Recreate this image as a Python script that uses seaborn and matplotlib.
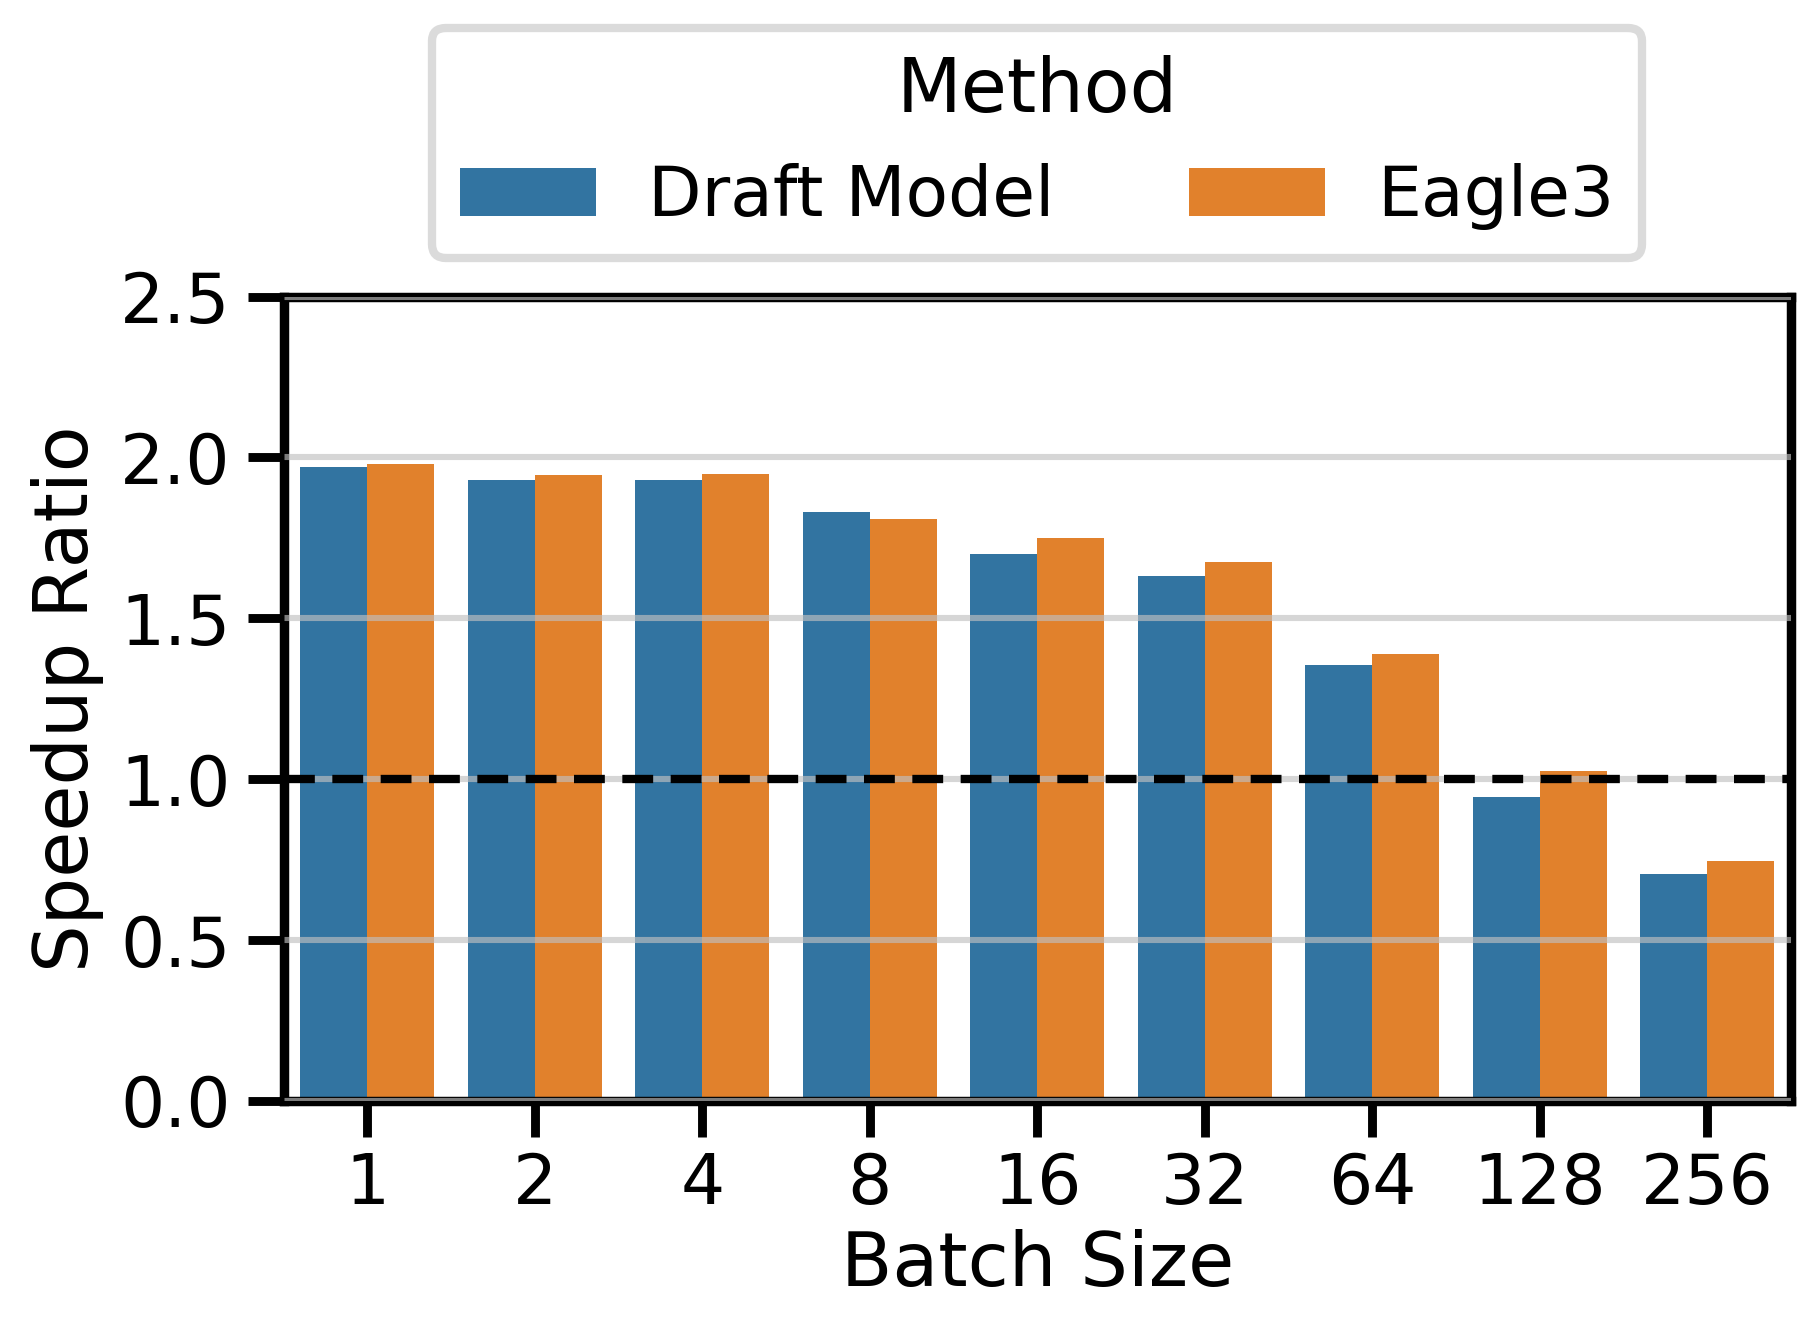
"""Speedup ratio vs batch size: Draft Model vs Eagle3"""
import matplotlib
matplotlib.use("Agg")
import matplotlib.pyplot as plt
import pandas as pd
import seaborn as sns

batch_sizes = ["1", "2", "4", "8", "16", "32", "64", "128", "256"]
draft_model = [1.97, 1.93, 1.93, 1.83, 1.70, 1.63, 1.355, 0.945, 0.705]
eagle3 = [1.98, 1.945, 1.95, 1.81, 1.75, 1.675, 1.39, 1.025, 0.745]

df = pd.DataFrame({
    "Batch Size": batch_sizes * 2,
    "Speedup Ratio": draft_model + eagle3,
    "Method": ["Draft Model"] * len(batch_sizes) + ["Eagle3"] * len(batch_sizes),
})

sns.set_theme(context="poster", style="ticks")
plt.rcParams["font.family"] = ["DejaVu Sans"]
plt.rcParams["text.color"] = "black"
plt.rcParams["axes.labelcolor"] = "black"
plt.rcParams["xtick.color"] = "black"
plt.rcParams["ytick.color"] = "black"

fig = plt.figure(figsize=(9.09, 6.68), dpi=200)
ax = fig.add_axes([0.156, 0.176, 0.829, 0.602])

sns.barplot(data=df, x="Batch Size", y="Speedup Ratio", hue="Method",
            order=batch_sizes, palette="tab10", saturation=0.75,
            linewidth=0, ax=ax)

ax.set_ylim(0, 2.5)
ax.set_yticks([0.0, 0.5, 1.0, 1.5, 2.0, 2.5])
ax.yaxis.grid(True, color="#c0c0c0", alpha=0.65, linewidth=2.2)
ax.set_axisbelow(False)
ax.axhline(1.0, color="black", linestyle="--", linewidth=3,
           dashes=(3.7, 2.1), zorder=5)

for s in ax.spines.values():
    s.set_linewidth(3.4)
    s.set_color("black")

ax.tick_params(axis="both", width=3.2, length=13, labelsize=25, colors="black")
ax.tick_params(axis="x", pad=5)
ax.tick_params(axis="y", pad=6)
ax.set_xlabel("Batch Size", fontsize=27, labelpad=4)
ax.set_ylabel("Speedup Ratio", fontsize=27, labelpad=6)

leg = ax.legend(title="Method", ncol=2, loc="lower center",
                bbox_to_anchor=(0.5, 1.005), fontsize=25, title_fontsize=27,
                handlelength=1.95, handleheight=0.68, handletextpad=0.75,
                columnspacing=1.95, frameon=True, fancybox=True,
                borderpad=0.4)
leg.get_frame().set_edgecolor("lightgray")
leg.get_frame().set_linewidth(3)

fig.savefig("out.png", dpi=200)
